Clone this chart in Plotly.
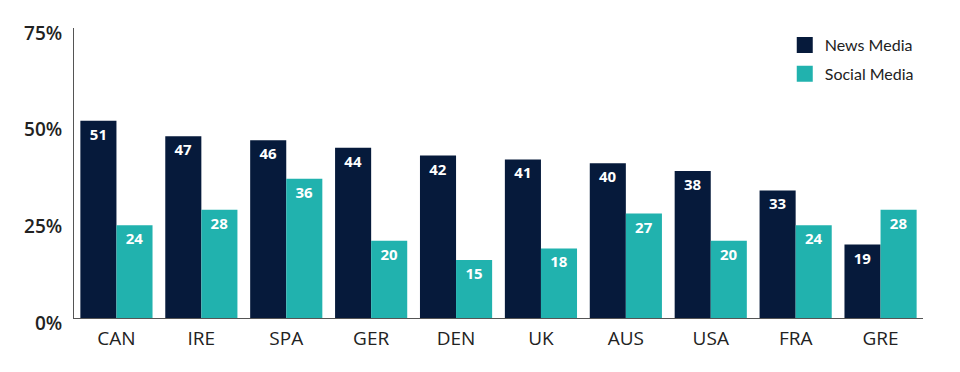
import plotly.graph_objects as go

countries = ["CAN", "IRE", "SPA", "GER", "DEN", "UK", "AUS", "USA", "FRA", "GRE"]
news_media = [51, 47, 46, 44, 42, 41, 40, 38, 33, 19]
social_media = [24, 28, 36, 20, 15, 18, 27, 20, 24, 28]
y_ticks = [0, 25, 50, 75]
y_tick_labels = ["0%", "25%", "50%", "75%"]

NAVY = "#061a3b"
TEAL = "#21b2ae"

fig = go.Figure()
for name, vals, col in [("News Media", news_media, NAVY), ("Social Media", social_media, TEAL)]:
    fig.add_trace(go.Bar(
        x=countries, y=vals, name=name, marker_color=col,
        marker_line_width=0, text=vals, textposition="inside",
        insidetextanchor="end", textangle=0, constraintext="none",
        textfont=dict(family="Open Sans", size=15, color="white", weight="bold"),
        showlegend=False, hoverinfo="skip",
    ))
# legend entries
for name, col in [("News Media", NAVY), ("Social Media", TEAL)]:
    fig.add_trace(go.Scatter(
        x=[None], y=[None], mode="markers", name=name, legendgroup=name,
        marker=dict(symbol="square", size=16, color=col),
    ))

fig.update_layout(
    width=960, height=372,
    margin=dict(l=66, r=45, t=20, b=62, autoexpand=False),
    paper_bgcolor="white", plot_bgcolor="white",
    barmode="group", bargap=0.15, bargroupgap=0,
    font=dict(family="Open Sans", color="#222222"),
    legend=dict(x=0.995, y=1.0, xanchor="right", yanchor="top",
                font=dict(family="Lato", size=16, color="#222222"),
                itemsizing="trace", traceorder="grouped", tracegroupgap=5,
                bgcolor="rgba(0,0,0,0)"),
    xaxis=dict(range=[-0.5, 9.5], showline=True, linecolor="#555555", linewidth=1,
               ticks="", tickfont=dict(family="Open Sans", size=19, color="#222222"),
               showgrid=False, zeroline=False, ticklabelstandoff=3, automargin=False),
    yaxis=dict(range=[0, 75], tickvals=y_ticks, ticktext=y_tick_labels,
               showline=True, linecolor="#555555", linewidth=1, ticks="",
               showgrid=False, zeroline=False, automargin=False,
               tickfont=dict(family="Open Sans", size=19, color="#222222", weight=600),
               ticklabelstandoff=7, ticklabelshift=5),
)
fig.write_html("out.html")
